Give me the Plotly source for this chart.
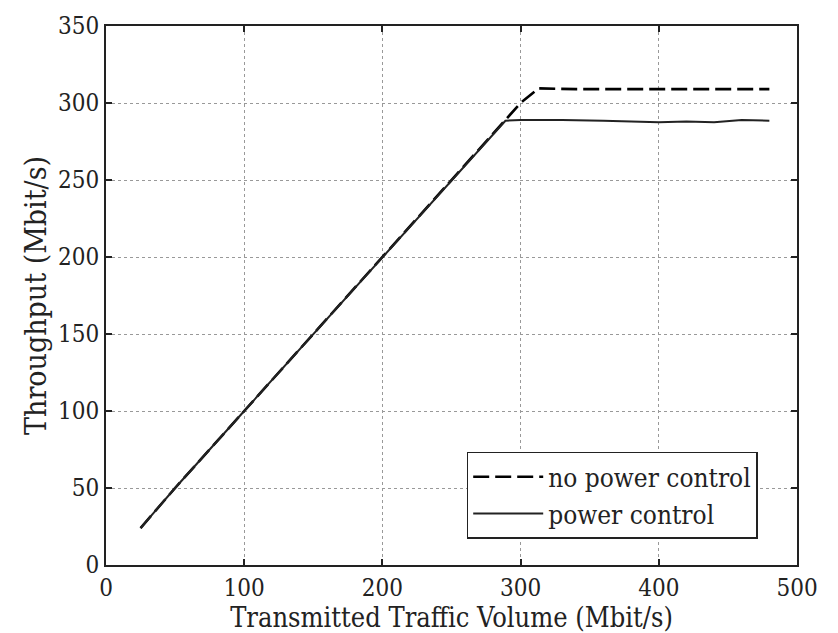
import plotly.graph_objects as go

# Data
x_pc = [25, 50, 100, 150, 200, 250, 289, 300, 330, 360, 380, 400, 420, 440, 460, 480]
y_pc = [24, 50, 100, 150, 200, 250, 288.5, 289, 289, 288.5, 288, 287.5, 288, 287.5, 289, 288.5]

x_npc = [25, 50, 100, 150, 200, 250, 300, 313, 340, 370, 400, 430, 460, 480]
y_npc = [24, 50, 100, 150, 200, 250, 300, 309.5, 309, 309, 309, 309, 309, 309]

txt_color = "#222222"
ff = "DejaVu Serif Condensed"

fig = go.Figure()
fig.add_trace(go.Scatter(x=x_npc, y=y_npc, mode="lines", name="no power control",
                         line=dict(color="black", width=2.6, dash="16px,6px")))
fig.add_trace(go.Scatter(x=x_pc, y=y_pc, mode="lines", name="power control",
                         line=dict(color="#222222", width=2)))

axis_common = dict(
    showline=True, linecolor="#222222", linewidth=2, mirror="ticks",
    ticks="inside", ticklen=6, tickcolor="#222222", tickwidth=1.5,
    showgrid=True, gridcolor="#999999", griddash="dot", gridwidth=1,
    zeroline=False, tickfont=dict(family=ff, size=24, color=txt_color),
)

fig.update_xaxes(range=[0, 500], dtick=100,
                 title=dict(text="Transmitted Traffic Volume (Mbit/s)",
                            font=dict(family=ff, size=27, color=txt_color),
                            standoff=0),
                 **axis_common)
fig.update_yaxes(range=[0, 350], dtick=50,
                 title=dict(text="Throughput (Mbit/s)",
                            font=dict(family=ff, size=30, color=txt_color), standoff=2),
                 **axis_common)

fig.update_layout(
    width=838, height=633,
    margin=dict(l=106, r=41, t=18, b=67),
    plot_bgcolor="white", paper_bgcolor="white",
    legend=dict(x=0.522, y=0.21, xanchor="left", yanchor="top",
                bgcolor="white", bordercolor="#222222", borderwidth=1.5,
                font=dict(family=ff, size=26, color=txt_color),
                itemwidth=70, tracegroupgap=0),
    showlegend=True,
)

fig.write_html("out.html")
